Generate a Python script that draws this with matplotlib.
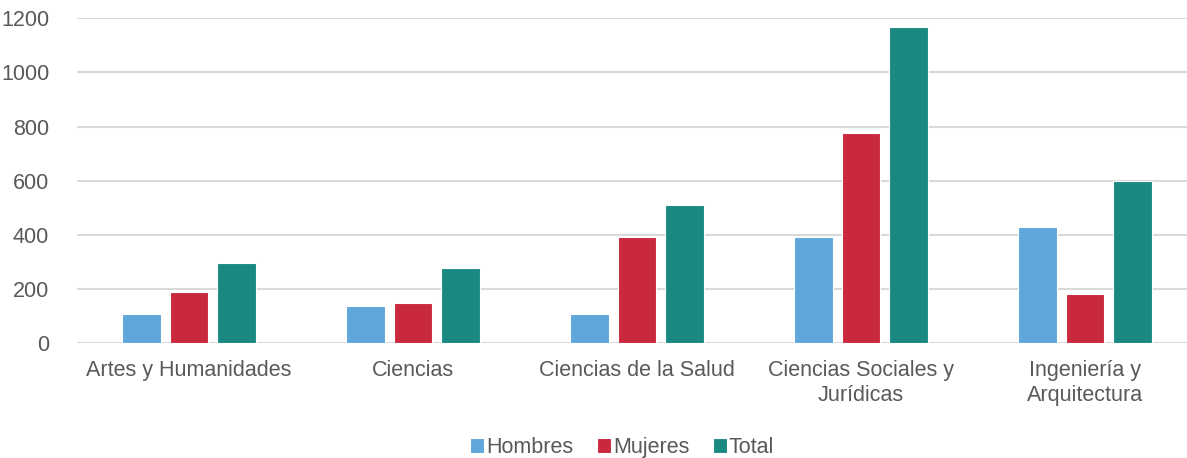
import matplotlib
matplotlib.use("Agg")
import matplotlib.pyplot as plt
import numpy as np

categories = ["Artes y Humanidades", "Ciencias", "Ciencias de la Salud",
              "Ciencias Sociales y\nJurídicas", "Ingeniería y\nArquitectura"]
hombres = [108, 136, 108, 393, 429]
mujeres = [189, 146, 393, 777, 181]
total = [296, 278, 509, 1167, 598]
series_names = ["Hombres", "Mujeres", "Total"]
colors = ["#5FA7DB", "#C8293D", "#1A8981"]
yticks = [0, 200, 400, 600, 800, 1000, 1200]

plt.rcParams['font.family'] = ['Liberation Sans', 'DejaVu Sans']

W, H = 1187, 458
fig = plt.figure(figsize=(W/100, H/100), dpi=100)
ax = fig.add_axes([77/W, (H-343)/H, (1197-77)/W, (343-18.3)/H])

x = np.arange(len(categories))
bw = 0.174
step = 0.214
for i, (vals, name, c) in enumerate(zip([hombres, mujeres, total], series_names, colors)):
    ax.bar(x + (i-1)*step, vals, width=bw, color=c, label=name,
           edgecolor="white", linewidth=0.8, zorder=3)

ax.set_xlim(-0.5, len(categories)-0.5)
ax.set_ylim(0, 1200)
ax.set_yticks(yticks)
ax.yaxis.grid(True, color="#D9D9D9", linewidth=1.5, zorder=0)
ax.set_axisbelow(True)
for s in ax.spines.values():
    s.set_visible(False)
ax.tick_params(axis='both', length=0, colors="#595959", labelsize=15.5)
ax.tick_params(axis='y', pad=20)
ax.tick_params(axis='x', pad=12)
ax.set_xticks(x)
ax.set_xticklabels(categories, linespacing=1.3)
for lbl in ax.get_xticklabels() + ax.get_yticklabels():
    lbl.set_color("#595959")

leg = fig.legend(loc="center", bbox_to_anchor=(622/W, (H-447.5)/H), ncol=3,
                 frameon=False, fontsize=15.5, handlelength=0.65, handleheight=0.65,
                 handletextpad=0.1, columnspacing=1.1, labelcolor="#595959")

fig.savefig("out.png", dpi=100)
